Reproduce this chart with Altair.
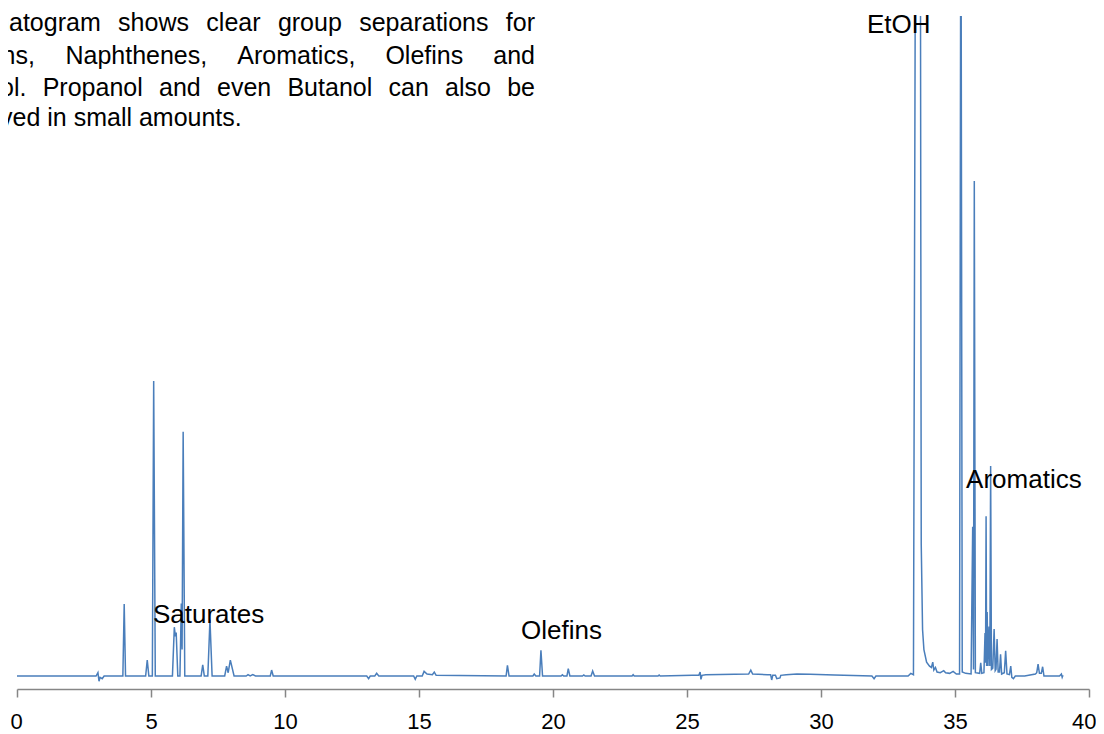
import altair as alt
import pandas as pd

# ---------------- data ----------------
# retention time (min)
rt = [
    0.0, 2.95, 3.02, 3.06, 3.1, 3.18, 3.25,
    3.95, 4.0, 4.05,
    4.8, 4.86, 4.92,
    5.05, 5.1, 5.16,
    5.8, 5.87, 5.91, 5.94, 6.0,
    6.08, 6.13, 6.16, 6.2, 6.26,
    6.87, 6.93, 6.99,
    7.12, 7.2, 7.28,
    7.75, 7.82, 7.88, 7.96, 8.1,
    8.55, 8.62, 8.7, 8.8, 8.9,
    9.45, 9.5, 9.56,
    13.05, 13.12, 13.18, 13.35, 13.42, 13.5,
    14.8, 14.86, 14.92, 15.12, 15.19, 15.3, 15.5, 15.57, 15.64,
    18.25, 18.3, 18.36,
    19.25, 19.3, 19.36,
    19.5, 19.55, 19.61,
    20.3, 20.35, 20.4, 20.52, 20.57, 20.63,
    21.1, 21.15, 21.2, 21.42, 21.48, 21.55,
    22.95, 22.99, 23.03, 23.92, 23.96, 24.0,
    25.2, 25.44, 25.49, 25.52, 25.56, 25.7,
    27.3, 27.38, 27.45,
    28.0, 28.12, 28.16, 28.2, 28.3, 28.35, 28.47, 28.5, 28.7,
    29.1, 29.6, 30.5, 31.9, 31.98, 32.05,
    33.25, 33.35, 33.45, 33.54, 33.7, 33.74, 33.79, 33.84, 33.94,
    34.05, 34.12, 34.17, 34.21, 34.27, 34.33, 34.45, 34.58, 34.65,
    34.8, 34.93, 35.05, 35.17, 35.22, 35.27, 35.4,
    35.6, 35.66, 35.69, 35.72, 35.76,
    35.92, 35.96, 36.0, 36.08, 36.12, 36.14, 36.16, 36.18, 36.2,
    36.23, 36.27, 36.3, 36.33, 36.36, 36.41, 36.46, 36.5, 36.53,
    36.57, 36.61, 36.66, 36.7, 36.74, 36.84, 36.89, 36.94,
    37.03, 37.08, 37.12, 37.18, 37.25, 37.6,
    38.0, 38.05, 38.1, 38.15, 38.22, 38.27, 38.32,
    38.9, 38.97, 39.0, 39.03,
]
# detector signal (relative units)
signal = [
    0.0, 0.0, 0.5, -0.8, -0.2, -0.4, 0.0,
    0.0, 10.9, 0.0,
    0.0, 2.4, 0.0,
    0.0, 44.7, 0.0,
    0.0, 7.4, 6.0, 6.6, 0.0,
    0.0, 11.0, 4.0, 37.0, 0.0,
    0.0, 1.7, 0.0,
    0.0, 8.5, 0.0,
    0.0, 1.5, 0.5, 2.4, 0.0,
    0.0, 0.2, 0.0, 0.2, 0.0,
    0.0, 0.9, 0.0,
    0.0, -0.4, 0.0, 0.0, 0.4, 0.0,
    0.0, -0.5, 0.0, 0.0, 0.7, 0.3, 0.2, 0.6, 0.1,
    0.0, 1.6, 0.0,
    0.0, 0.3, 0.0,
    0.0, 3.9, 0.0,
    0.0, 0.2, 0.0, 0.0, 1.1, 0.0,
    0.0, 0.15, 0.0, 0.0, 0.75, 0.0,
    0.0, 0.2, 0.0, 0.0, 0.15, 0.0,
    0.1, 0.1, 0.6, -0.5, 0.1, 0.2,
    0.3, 0.9, 0.3,
    0.2, 0.2, -0.6, 0.1, 0.1, -0.4, -0.3, 0.1, 0.2,
    0.3, 0.25, 0.15, 0.0, -0.4, 0.0,
    0.0, 0.4, 0.2, 140.0, 140.0, 20.0, 7.0, 4.0, 2.1,
    1.5, 1.3, 2.1, 0.9, 1.3, 0.6, 0.5, 0.8, 0.5,
    0.4, 0.7, 0.3, 0.3, 130.0, 0.6, 0.4,
    0.3, 22.6, 1.0, 75.0, 0.5,
    0.4, 2.0, 0.4, 0.5, 6.5, 2.0, 24.2, 1.5, 9.7,
    1.5, 7.5, 1.5, 31.8, 1.0, 1.2, 7.1, 0.8, 1.0,
    5.6, 0.6, 0.6, 3.3, 0.3, 0.5, 3.8, 0.3,
    0.2, 1.5, -0.2, -0.4, 0.0, 0.0,
    0.3, 0.5, 1.8, 0.4, 0.4, 1.4, 0.0,
    0.0, 0.3, -0.2, 0.1,
]

# group annotations
label_text = ["Saturates", "Olefins", "EtOH", "Aromatics"]
label_rt = [7.15, 20.32, 32.9, 37.57]
label_signal = [8.0, 5.6, 97.4, 28.5]

x_ticks = [0, 5, 10, 15, 20, 25, 30, 35, 40]

# paragraph (top-left text box, cut by the left edge of the picture)
paragraph_lines = [
    ["chromatogram", "shows", "clear", "group", "separations", "for"],
    ["Paraffins,", "Naphthenes,", "Aromatics,", "Olefins", "and"],
    ["Ethanol.", "Propanol", "and", "even", "Butanol", "can", "also", "be"],
    ["observed", "in", "small", "amounts."],
]

# ---------------- layout ----------------
W, H = 1072, 673
PARA_SIZE = 25
ARIAL = {
    "a": 556, "b": 556, "c": 500, "d": 556, "e": 556, "f": 278, "g": 556,
    "h": 556, "i": 222, "l": 222, "m": 833, "n": 556, "o": 556, "p": 556,
    "r": 333, "s": 500, "t": 278, "u": 556, "v": 500, "w": 722, "y": 500,
    "A": 667, "B": 667, "E": 667, "N": 722, "O": 778, "P": 667, "T": 611,
    ".": 278, ",": 278, " ": 278,
}


def text_width(s, size):
    return sum(ARIAL.get(ch, 556) for ch in s) * size / 1000.0


hidden_part = ["chrom", "Paraffi", "Ethan", "obser"]
visible_start = [-8, -15, -17, -17]
baselines = [15, 47.5, 79.5, 110]
justified = [True, True, True, False]
right_edge = 518

rows = []
for words, hid, vs, by, just in zip(paragraph_lines, hidden_part, visible_start, baselines, justified):
    left = vs - text_width(hid, PARA_SIZE)
    widths = [text_width(w, PARA_SIZE) for w in words]
    if just:
        gap = (right_edge - left - sum(widths)) / (len(words) - 1)
    else:
        gap = text_width(" ", PARA_SIZE)
    x = left
    for w, wd in zip(words, widths):
        rows.append({"word": w, "px": x, "py": by})
        x += wd + gap
para_df = pd.DataFrame(rows)

trace = pd.DataFrame({"rt": rt, "signal": signal})
labels_df = pd.DataFrame({"rt": label_rt, "signal": label_signal, "label": label_text})

xscale = alt.Scale(domain=[0, 40], nice=False, zero=False)
yscale = alt.Scale(domain=[-1.97, 100], nice=False, zero=False)

line = alt.Chart(trace).mark_line(
    color="#4A7EBB", strokeWidth=1.5, clip=True, interpolate="linear"
).encode(
    x=alt.X(
        "rt:Q",
        scale=xscale,
        axis=alt.Axis(
            values=x_ticks, title=None, grid=False,
            domainColor="#868686", domainWidth=1.5,
            tickColor="#868686", tickWidth=1.5, tickSize=8,
            labelFont="Liberation Sans", labelFontSize=22, labelColor="#000000",
            labelPadding=14, labelFlush=True, labelFlushOffset=7,
            labelOverlap=False,
        ),
    ),
    y=alt.Y("signal:Q", scale=yscale, axis=None),
)

labels = alt.Chart(labels_df).mark_text(
    font="Liberation Sans", fontSize=26, align="center", baseline="alphabetic", color="#000000"
).encode(
    x=alt.X("rt:Q", scale=xscale),
    y=alt.Y("signal:Q", scale=yscale),
    text="label:N",
)

para = alt.Chart(para_df).mark_text(
    font="Liberation Sans", fontSize=PARA_SIZE, align="left", baseline="alphabetic", color="#000000"
).encode(
    x=alt.X("px:Q", scale=None),
    y=alt.Y("py:Q", scale=None),
    text="word:N",
)

chart = alt.layer(line, labels, para).properties(
    width=W,
    height=H,
    autosize=alt.AutoSizeParams(type="none"),
    padding={"left": 9, "top": 8, "right": 7, "bottom": 45},
).configure_view(strokeWidth=0)

chart.save("out.html", embed_options={"renderer": "svg", "actions": False})
